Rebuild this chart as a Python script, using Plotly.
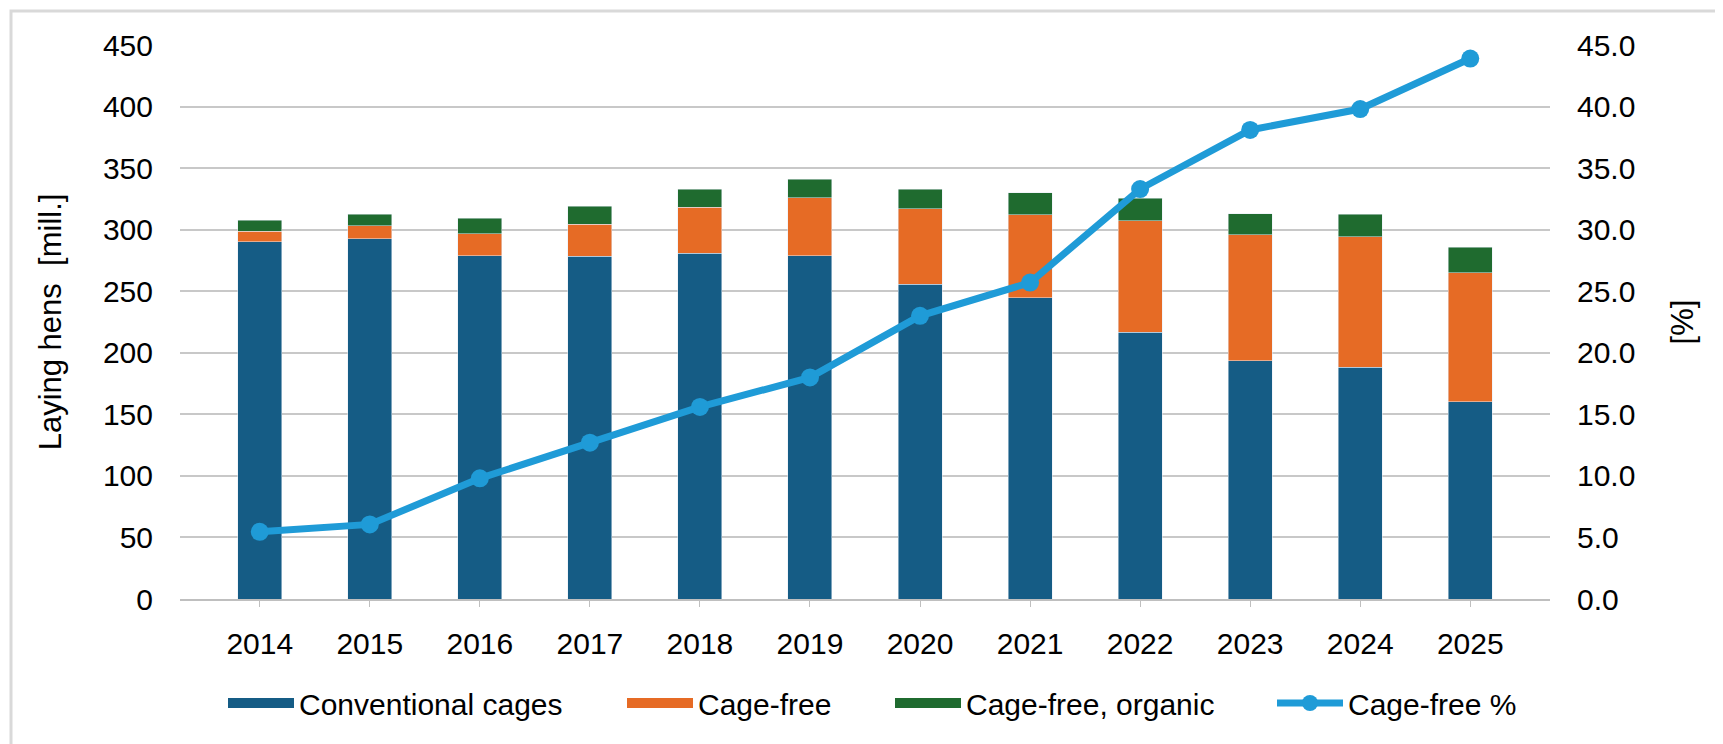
import plotly.graph_objects as go

years = ["2014", "2015", "2016", "2017", "2018", "2019", "2020", "2021", "2022", "2023", "2024", "2025"]
conventional = [290.2, 292.7, 278.9, 278.6, 281.0, 278.9, 255.6, 244.7, 216.5, 193.5, 188.1, 160.4]
cage_free = [8.7, 10.3, 17.6, 26.0, 37.4, 47.1, 61.5, 67.5, 90.8, 102.2, 106.0, 104.6]
organic = [8.7, 9.5, 12.7, 14.4, 14.6, 14.9, 15.7, 17.6, 18.2, 17.3, 18.4, 20.9]
cage_free_pct = [5.46, 6.06, 9.8, 12.7, 15.6, 18.0, 23.0, 25.7, 33.3, 38.1, 39.8, 43.9]

bar_names = ["Conventional cages", "Cage-free", "Cage-free, organic"]
bar_colors = ["#155C85", "#E66B25", "#1F6B2F"]
line_name = "Cage-free %"
line_color = "#1F9BD7"

W, H = 1723, 744
L, R, T, B = 172, 181, 37, 153
pw, ph = W - L - R, H - T - B

FAM = "Liberation Sans, Arial, sans-serif"
font = dict(family=FAM, size=30, color="#000000")
legend_ids = ["legend", "legend2", "legend3", "legend4"]
legend_px = [215, 614, 882, 1264]  # left edge of each legend entry (pixels)

fig = go.Figure()
for name, vals, col in zip(bar_names, [conventional, cage_free, organic], bar_colors):
    fig.add_trace(go.Bar(x=years, y=vals, name=name, marker_color=col,
                         legendgroup=name, showlegend=False))
# legend entries with wide rectangular swatches (as in the original)
for name, col, lg in zip(bar_names, bar_colors, legend_ids):
    fig.add_trace(go.Scatter(x=[None], y=[None], name=name, mode="lines",
                             line=dict(color=col, width=17), legendgroup=name,
                             legend=lg, hoverinfo="skip"))
fig.add_trace(go.Scatter(x=years, y=cage_free_pct, name=line_name, yaxis="y2",
                         mode="lines+markers", legend=legend_ids[3],
                         line=dict(color=line_color, width=7),
                         marker=dict(color=line_color, size=18)))

legend_common = dict(orientation="h", yanchor="middle", y=(591 - 695) / (744 - 37 - 153) * -1 * -1,
                     xanchor="left", font=font, itemwidth=66,
                     bgcolor="rgba(0,0,0,0)", borderwidth=0)
legend_common["y"] = -104 / ph
legends = {lg: dict(legend_common, x=(px - L) / pw) for lg, px in zip(legend_ids, legend_px)}

fig.update_layout(
    width=W, height=H,
    margin=dict(l=L, r=R, t=T, b=B, autoexpand=False),
    paper_bgcolor="white", plot_bgcolor="white",
    font=font,
    barmode="stack", bargap=0.6,
    xaxis=dict(type="category", categoryorder="array", categoryarray=years,
               showgrid=False, showline=True, linecolor="#BFBFBF", linewidth=1.5,
               ticks="outside", ticklen=6, tickcolor="#BFBFBF", tickfont=font,
               ticklabelstandoff=11),
    yaxis=dict(range=[0, 450], dtick=50, showgrid=True, gridcolor="#C8C8C8", gridwidth=1.5,
               zeroline=False, showline=False, tickfont=font, ticklabelstandoff=26,
               title=dict(text="Laying hens\u00a0 [mill.]", font=dict(family=FAM, size=31, color="#000"),
                          standoff=32)),
    yaxis2=dict(range=[0, 45], dtick=5, tickformat=".1f", overlaying="y", side="right",
                showgrid=False, zeroline=False, showline=False, tickfont=font, ticklabelstandoff=26,
                title=dict(text="[%]", font=dict(family=FAM, size=31, color="#000"),
                           standoff=36)),
    showlegend=True,
    shapes=[dict(type="rect", xref="paper", yref="paper",
                 x0=-(L - 3) / pw, x1=1 + (R - 3) / pw, y0=-(B - 3) / ph, y1=1 + (T - 3) / ph,
                 line=dict(color="#D9D9D9", width=3), fillcolor="rgba(0,0,0,0)", layer="below")],
    **legends,
)

fig.write_html("out.html")
